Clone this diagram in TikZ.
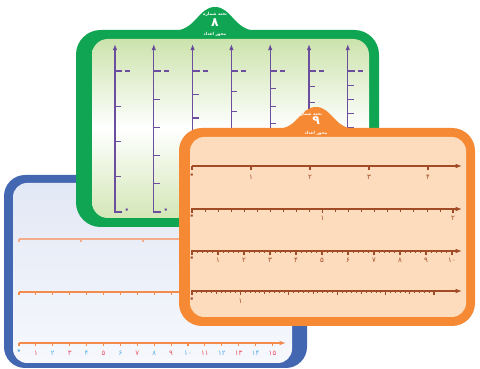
\documentclass[tikz,border=0pt]{standalone}
\usepackage{fontspec}
\usepackage{xcolor}
\usepackage{tikz}
\usetikzlibrary{arrows.meta}
\TeXXeTstate=1
\newfontfamily\arabicfont[Script=Arabic]{DejaVu Sans}
\definecolor{boardblue}{HTML}{4467B1}
\definecolor{bluetop}{HTML}{E2E8F5}
\definecolor{bluebot}{HTML}{F6F8FC}
\definecolor{boardgreen}{HTML}{10A552}
\definecolor{greentop}{HTML}{CCE3AC}
\definecolor{greenbot}{HTML}{D3E7B6}
\definecolor{boardorange}{HTML}{F58934}
\definecolor{orangein}{HTML}{FCDCBC}
\definecolor{axisbrown}{HTML}{A24B27}
\definecolor{axispurple}{HTML}{6B4E9E}
\definecolor{tippurple}{HTML}{3E1F6E}
\definecolor{axisorange}{HTML}{F28B4C}
\definecolor{axissalmon}{HTML}{F4AC8C}
\definecolor{digblue}{HTML}{5AAEE2}
\definecolor{digred}{HTML}{E8566A}

\begin{document}
\begin{tikzpicture}[x=0.2mm,y=-0.2mm,
  vaxis/.style={draw=axispurple,line width=0.6pt,-{Latex[length=3.5pt,width=2.6pt,fill=tippurple]}},
  vtick/.style={draw=axispurple,line width=0.6pt},
  oaxis/.style={draw=axisbrown,line width=0.6pt,-{Latex[length=3.6pt,width=2.6pt]}},
  otick/.style={draw=axisbrown,line width=0.45pt},
  omajor/.style={draw=axisbrown,line width=1pt},
  baxis/.style={draw=axisorange,line width=0.7pt,-{Latex[length=3.6pt,width=2.6pt]}},
  btick/.style={draw=axisorange,line width=0.5pt},
  num/.style={font=\arabicfont\fontsize{4}{4}\selectfont,inner sep=0pt},
  zero/.style={font=\arabicfont\bfseries\fontsize{7}{7}\selectfont,inner sep=0pt},
  tabnum/.style={font=\arabicfont\bfseries\fontsize{7}{7}\selectfont,text=white,inner sep=0pt},
  tabtxt/.style={font=\arabicfont\bfseries\fontsize{2.4}{2.4}\selectfont,text=white,inner sep=0pt}]
\useasboundingbox (0,0) rectangle (480,369);

% blue board (back)
\fill[boardblue,rounded corners=12] (4,175) rectangle (307,368);
\shade[rounded corners=8,top color=bluetop,bottom color=bluebot] (13,183) rectangle (292,363);
\draw[btick,draw=axissalmon,line width=0.8pt] (19,239) -- (290,239);
\foreach \k in {0,...,4}
  \draw[btick,draw=axissalmon,line width=0.8pt] (19+62*\k,239) -- ++(0,3);
\draw[baxis] (19,292) -- (286,292);
\foreach \k in {0,...,15}{
  \pgfmathtruncatemacro\m{mod(\k,5)}
  \ifnum\m=0
    \draw[btick,line width=1pt] (19+16.9*\k,292) -- ++(0,3.5);
  \else
    \draw[btick] (19+16.9*\k,292) -- ++(0,3);
  \fi}
\draw[baxis] (19,343) -- (286,343);
\node[zero,text=digblue] (b0) at (19,352) {۰};
\foreach \k/\d in {1/۱,2/۲,3/۳,4/۴,5/۵,6/۶,7/۷,8/۸,9/۹,10/۱۰,11/۱۱,12/۱۲,13/۱۳,14/۱۴,15/۱۵}{
  \pgfmathtruncatemacro\m{mod(\k,5)}
  \pgfmathtruncatemacro\p{mod(\k,2)}
  \ifnum\m=0
    \draw[btick,line width=1pt] (19+16.9*\k,343) -- ++(0,3.5);
  \else
    \draw[btick] (19+16.9*\k,343) -- ++(0,3);
  \fi
  \ifnum\p=0
    \node[num,text=digblue] (b\k) at (19+16.9*\k,353) {\d};
  \else
    \node[num,text=digred] (b\k) at (19+16.9*\k,353) {\d};
  \fi}
\draw[btick,line width=1pt] (19,343) -- ++(0,3.5);

% green board (middle)
\fill[boardgreen,rounded corners=14] (76,30) rectangle (379,227);
\fill[boardgreen] (172,31) .. controls (196,31) and (198,7) .. (215,7)
  .. controls (232,7) and (234,31) .. (258,31) -- cycle;
\shade[rounded corners=9,top color=greentop,bottom color=greenbot,middle color=white]
  (92,39) rectangle (369,218);
\node[tabtxt] (gtop) at (215,14) {\beginR تخته شماره\endR};
\node[tabnum] (gnum) at (215,23) {۸};
\node[tabtxt] (gband) at (215,34) {\beginR محور اعداد\endR};
\foreach \i in {1,...,7}{
  \pgfmathsetmacro\xx{115+38.8*(\i-1)}
  \pgfmathsetmacro\dd{141/(\i+3)}
  \pgfmathtruncatemacro\n{\i+2}
  \draw[vaxis] (\xx+7,212) -- (\xx,212) -- (\xx,44);
  \draw[vtick,line width=1.1pt] (\xx,71) -- ++(7,0);
  \draw[vtick,line width=1.1pt] (\xx+10,71) -- ++(5,0);
  \foreach \k in {1,...,\n}
    \draw[vtick] (\xx,71+\k*\dd) -- ++(6,0);
  \node[zero,text=axispurple] (z\i) at (\xx+12,211) {۰};}

% orange board (front)
\fill[boardorange,rounded corners=13] (179,128) rectangle (475,326);
\fill[boardorange] (276,129) .. controls (298,129) and (300,107) .. (316,107)
  .. controls (332,107) and (334,129) .. (356,129) -- cycle;
\fill[orangein,rounded corners=8] (190,137) rectangle (466,317);
\node[tabtxt] (otop) at (310,114) {\beginR تخته شماره\endR};
\node[tabnum] (onum) at (316,121) {۹};
\node[tabtxt] (oband) at (316,133) {\beginR محور اعداد\endR};
% line 1
\draw[oaxis] (192,166) -- (462,166);
\foreach \k/\d in {0/۰,1/۱,2/۲,3/۳,4/۴}
  \draw[otick,line width=0.7pt] (192+59*\k,166) -- ++(0,4);
\node[zero,text=axisbrown] (p0) at (192,176) {۰};
\foreach \k/\d in {1/۱,2/۲,3/۳,4/۴}
  \node[num,text=axisbrown] (p\k) at (192+59*\k,177) {\d};
% line 2
\draw[oaxis] (192,209) -- (462,209);
\foreach \k in {0,...,20}{
  \pgfmathtruncatemacro\m{mod(\k,10)}
  \ifnum\m=0
    \draw[omajor] (192+13.05*\k,208) -- ++(0,5);
  \else
    \draw[otick] (192+13.05*\k,209) -- ++(0,3);
  \fi}
\node[zero,text=axisbrown] (q0) at (192,217) {۰};
\foreach \k/\d in {1/۱,2/۲}
  \node[num,text=axisbrown] (q\k) at (192+130.5*\k,218) {\d};
% line 3
\draw[oaxis] (192,251) -- (462,251);
\foreach \k in {0,...,50}{
  \pgfmathtruncatemacro\m{mod(\k,5)}
  \ifnum\m=0
    \draw[omajor,line width=0.7pt] (192+5.2*\k,250) -- ++(0,5);
  \else
    \draw[otick] (192+5.2*\k,251) -- ++(0,2.5);
  \fi}
\node[zero,text=axisbrown] (r0) at (192,259) {۰};
\foreach \k/\d in {1/۱,2/۲,3/۳,4/۴,5/۵,6/۶,7/۷,8/۸,9/۹,10/۱۰}
  \node[num,text=axisbrown] (r\k) at (192+26*\k,260) {\d};
% line 4
\draw[oaxis] (192,291) -- (462,291);
\foreach \k in {0,...,50}{
  \pgfmathtruncatemacro\m{mod(\k,10)}
  \pgfmathtruncatemacro\h{mod(\k,5)}
  \ifnum\m=0
    \draw[omajor,line width=0.7pt] (192+4.84*\k,290) -- ++(0,5);
  \else\ifnum\h=0
    \draw[otick] (192+4.84*\k,291) -- ++(0,3.5);
  \else
    \draw[otick] (192+4.84*\k,291) -- ++(0,2.5);
  \fi\fi}
\node[zero,text=axisbrown] (s0) at (192,300) {۰};
\node[num,text=axisbrown] (s1) at (240.4,301) {۱};
\end{tikzpicture}
\end{document}
